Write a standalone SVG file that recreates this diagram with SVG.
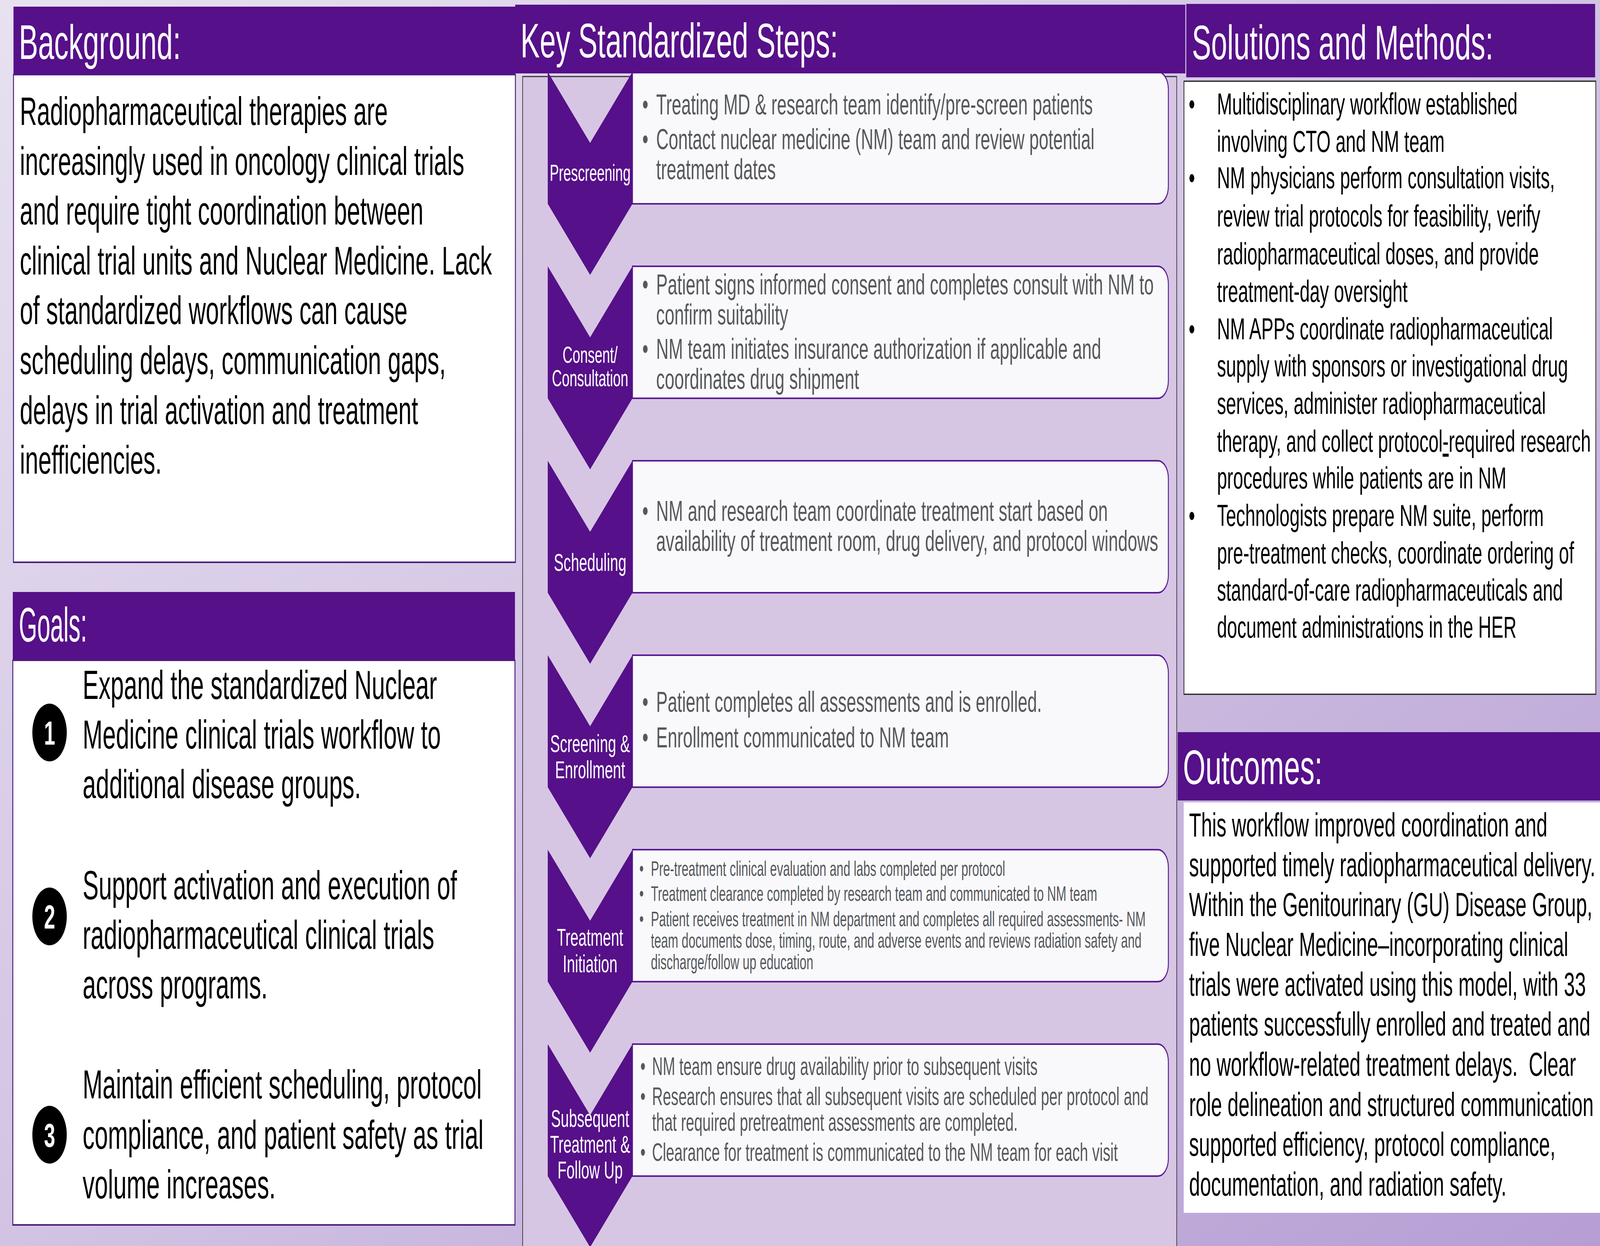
<svg xmlns="http://www.w3.org/2000/svg" width="6876" height="3191" viewBox="0 0 6876 3191" preserveAspectRatio="none" style="width:100vw;height:100vh;display:block">
<defs>
<linearGradient id="bg" x1="0" y1="0" x2="1" y2="1">
<stop offset="0" stop-color="#E7E1F0"/>
<stop offset="0.5" stop-color="#D2C3E3"/>
<stop offset="1" stop-color="#B69ED4"/>
</linearGradient>
<style>
text{font-family:"Liberation Sans",Arial,"DejaVu Sans",sans-serif}
.hdr{fill:#561089}
.hd{fill:#ffffff;font-size:124px}
.box{fill:#ffffff;stroke:#4E1C80;stroke-width:4}
.body{fill:#000000}
.bg102{font-size:102px}
.g103{font-size:103px}
.num{fill:#ffffff;font-size:86px;font-weight:bold;text-anchor:middle}
.sbox{fill:#F9F9FB;stroke:#5A1A96;stroke-width:4}
.chev{fill:#561089}
.cl{fill:#ffffff;font-size:63px;text-anchor:middle}
.cl59{font-size:59px}
.st{fill:#55585D}
.s74{font-size:74px}
.s53{font-size:53px}
.s64{font-size:64px}
.sol{fill:#000000;font-size:78px}
.out{fill:#000000;font-size:85px}
</style>
</defs>

<rect x="0" y="0" width="6876" height="3191" fill="url(#bg)"/>

<g id="background">
<rect class="hdr" x="58" y="17" width="2157" height="174"/>
<text class="hd" x="81" y="151">Background:</text>
<rect class="box" x="58" y="191" width="2157" height="1249"/>
<g class="body bg102">
<text x="85" y="320">Radiopharmaceutical therapies are</text>
<text x="85" y="448">increasingly used in oncology clinical trials</text>
<text x="85" y="575">and require tight coordination between</text>
<text x="85" y="703">clinical trial units and Nuclear Medicine. Lack</text>
<text x="85" y="830">of standardized workflows can cause</text>
<text x="85" y="958">scheduling delays, communication gaps,</text>
<text x="85" y="1086">delays in trial activation and treatment</text>
<text x="85" y="1213">inefficiencies.</text>
</g>
</g>

<g id="goals">
<rect class="hdr" x="55" y="1516" width="2158" height="175"/>
<text class="hd" x="81" y="1643" font-size="120" textLength="293" lengthAdjust="spacingAndGlyphs">Goals:</text>
<rect class="box" x="55" y="1691" width="2158" height="1446"/>
<g id="goal-1">
<circle cx="213" cy="1876" r="74" fill="#000000"/>
<text class="num" x="213" y="1907">1</text>
<g class="body g103">
<text x="355" y="1790">Expand the standardized Nuclear</text>
<text x="355" y="1917">Medicine clinical trials workflow to</text>
<text x="355" y="2044">additional disease groups.</text>
</g>
</g>
<g id="goal-2">
<circle cx="213" cy="2347" r="74" fill="#000000"/>
<text class="num" x="213" y="2378">2</text>
<g class="body g103">
<text x="355" y="2303">Support activation and execution of</text>
<text x="355" y="2430">radiopharmaceutical clinical trials</text>
<text x="355" y="2557">across programs.</text>
</g>
</g>
<g id="goal-3">
<circle cx="213" cy="2906" r="74" fill="#000000"/>
<text class="num" x="213" y="2937">3</text>
<g class="body g103">
<text x="355" y="2813">Maintain efficient scheduling, protocol</text>
<text x="355" y="2942">compliance, and patient safety as trial</text>
<text x="355" y="3069">volume increases.</text>
</g>
</g>
</g>

<g id="key-steps">
<rect x="2246" y="196" width="2811" height="3010" fill="#D6C6E3" stroke="#3C3444" stroke-width="3"/>

<g id="step-1">
<path class="sbox" d="M2718 184 H4976 A45 45 0 0 1 5021 229 V477 A45 45 0 0 1 4976 522 H2718 Z"/>
<polygon class="chev" points="2354,184 2536,366 2718,184 2718,522 2536,704 2354,522"/>
<text class="cl cl59" x="2536" y="463">Prescreening</text>
<g class="st s74">
<text x="2773" y="293" text-anchor="middle">•</text>
<text x="2820" y="293">Treating MD &amp; research team identify/pre-screen patients</text>
<text x="2773" y="382" text-anchor="middle">•</text>
<text x="2820" y="382">Contact nuclear medicine (NM) team and review potential</text>
<text x="2820" y="459">treatment dates</text>
</g>
</g>

<g id="step-2">
<path class="sbox" d="M2718 682 H4976 A45 45 0 0 1 5021 727 V975 A45 45 0 0 1 4976 1020 H2718 Z"/>
<polygon class="chev" points="2354,682 2536,864 2718,682 2718,1020 2536,1202 2354,1020"/>
<text class="cl cl59" x="2536" y="929">Consent/</text>
<text class="cl cl59" x="2536" y="989">Consultation</text>
<g class="st s74">
<text x="2773" y="754" text-anchor="middle">•</text>
<text x="2820" y="754">Patient signs informed consent and completes consult with NM to</text>
<text x="2820" y="831">confirm suitability</text>
<text x="2773" y="919" text-anchor="middle">•</text>
<text x="2820" y="919">NM team initiates insurance authorization if applicable and</text>
<text x="2820" y="996">coordinates drug shipment</text>
</g>
</g>

<g id="step-3">
<path class="sbox" d="M2718 1180 H4976 A45 45 0 0 1 5021 1225 V1473 A45 45 0 0 1 4976 1518 H2718 Z"/>
<polygon class="chev" points="2354,1180 2536,1362 2718,1180 2718,1518 2536,1700 2354,1518"/>
<text class="cl" x="2536" y="1462">Scheduling</text>
<g class="st s74">
<text x="2773" y="1334" text-anchor="middle">•</text>
<text x="2820" y="1334">NM and research team coordinate treatment start based on</text>
<text x="2820" y="1411">availability of treatment room, drug delivery, and protocol windows</text>
</g>
</g>

<g id="step-4">
<path class="sbox" d="M2718 1678 H4976 A45 45 0 0 1 5021 1723 V1971 A45 45 0 0 1 4976 2016 H2718 Z"/>
<polygon class="chev" points="2354,1678 2536,1860 2718,1678 2718,2016 2536,2198 2354,2016"/>
<text class="cl" x="2536" y="1926">Screening &amp;</text>
<text class="cl" x="2536" y="1993">Enrollment</text>
<g class="st s74">
<text x="2773" y="1823" text-anchor="middle">•</text>
<text x="2820" y="1823">Patient completes all assessments and is enrolled.</text>
<text x="2773" y="1914" text-anchor="middle">•</text>
<text x="2820" y="1914">Enrollment communicated to NM team</text>
</g>
</g>

<g id="step-5">
<path class="sbox" d="M2718 2176 H4976 A45 45 0 0 1 5021 2221 V2469 A45 45 0 0 1 4976 2514 H2718 Z"/>
<polygon class="chev" points="2354,2176 2536,2358 2718,2176 2718,2514 2536,2696 2354,2514"/>
<text class="cl" x="2536" y="2422">Treatment</text>
<text class="cl" x="2536" y="2490">Initiation</text>
<g class="st s53">
<text x="2757" y="2243" text-anchor="middle">•</text>
<text x="2797" y="2243">Pre-treatment clinical evaluation and labs completed per protocol</text>
<text x="2757" y="2307" text-anchor="middle">•</text>
<text x="2797" y="2307">Treatment clearance completed by research team and communicated to NM team</text>
<text x="2757" y="2372" text-anchor="middle">•</text>
<text x="2797" y="2372">Patient receives treatment in NM department and completes all required assessments- NM</text>
<text x="2797" y="2427">team documents dose, timing, route, and adverse events and reviews radiation safety and</text>
<text x="2797" y="2482">discharge/follow up education</text>
</g>
</g>

<g id="step-6">
<path class="sbox" d="M2718 2674 H4976 A45 45 0 0 1 5021 2719 V2967 A45 45 0 0 1 4976 3012 H2718 Z"/>
<polygon class="chev" points="2354,2674 2536,2856 2718,2674 2718,3012 2536,3194 2354,3012"/>
<text class="cl" x="2536" y="2886">Subsequent</text>
<text class="cl" x="2536" y="2952">Treatment &amp;</text>
<text class="cl" x="2536" y="3018">Follow Up</text>
<g class="st s64">
<text x="2763" y="2753" text-anchor="middle">•</text>
<text x="2802" y="2753">NM team ensure drug availability prior to subsequent visits</text>
<text x="2763" y="2830" text-anchor="middle">•</text>
<text x="2802" y="2830">Research ensures that all subsequent visits are scheduled per protocol and</text>
<text x="2802" y="2896">that required pretreatment assessments are completed.</text>
<text x="2763" y="2973" text-anchor="middle">•</text>
<text x="2802" y="2973">Clearance for treatment is communicated to the NM team for each visit</text>
</g>
</g>

<rect class="hdr" x="2214" y="12" width="2880" height="176"/>
<text class="hd" x="2237" y="147">Key Standardized Steps:</text>
</g>

<g id="solutions">
<rect class="hdr" x="5098" y="10" width="1757" height="188"/>
<text class="hd" x="5122" y="152">Solutions and Methods:</text>
<rect x="5088" y="208" width="1770" height="1570" fill="#ffffff" stroke="#1A1A1A" stroke-width="3"/>
<g class="sol">
<text x="5122" y="293" text-anchor="middle">•</text>
<text x="5230" y="293">Multidisciplinary workflow established</text>
<text x="5230" y="389">involving CTO and NM team</text>
<text x="5122" y="482" text-anchor="middle">•</text>
<text x="5230" y="482">NM physicians perform consultation visits,</text>
<text x="5230" y="580">review trial protocols for feasibility, verify</text>
<text x="5230" y="677">radiopharmaceutical doses, and provide</text>
<text x="5230" y="773">treatment-day oversight</text>
<text x="5122" y="869" text-anchor="middle">•</text>
<text x="5230" y="869">NM APPs coordinate radiopharmaceutical</text>
<text x="5230" y="964">supply with sponsors or investigational drug</text>
<text x="5230" y="1060">services, administer radiopharmaceutical</text>
<text x="5230" y="1157">therapy, and collect protocol<tspan text-decoration="underline">-</tspan>required research</text>
<text x="5230" y="1251">procedures while patients are in NM</text>
<text x="5122" y="1347" text-anchor="middle">•</text>
<text x="5230" y="1347">Technologists prepare NM suite, perform</text>
<text x="5230" y="1443">pre-treatment checks, coordinate ordering of</text>
<text x="5230" y="1538">standard-of-care radiopharmaceuticals and</text>
<text x="5230" y="1633">document administrations in the HER</text>
</g>
</g>

<g id="outcomes">
<rect class="hdr" x="5061" y="1875" width="1815" height="175"/>
<text class="hd" x="5084" y="2008">Outcomes:</text>
<rect x="5087" y="2055" width="1789" height="1051" fill="#ffffff"/>
<g class="out">
<text x="5110" y="2142">This workflow improved coordination and</text>
<text x="5110" y="2244">supported timely radiopharmaceutical delivery.</text>
<text x="5110" y="2346">Within the Genitourinary (GU) Disease Group,</text>
<text x="5110" y="2448">five Nuclear Medicine–incorporating clinical</text>
<text x="5110" y="2550">trials were activated using this model, with 33</text>
<text x="5110" y="2652">patients successfully enrolled and treated and</text>
<text x="5110" y="2755">no workflow-related treatment delays.&#160; Clear</text>
<text x="5110" y="2858">role delineation and structured communication</text>
<text x="5110" y="2960">supported efficiency, protocol compliance,</text>
<text x="5110" y="3062">documentation, and radiation safety.</text>
</g>
</g>
</svg>
